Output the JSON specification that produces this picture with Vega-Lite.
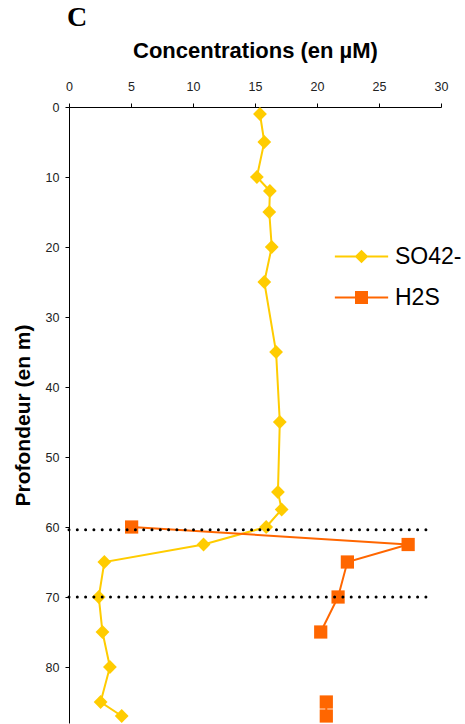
{
  "$schema": "https://vega.github.io/schema/vega-lite/v6.json",
  "width": 372,
  "height": 616,
  "autosize": {"type": "none"},
  "padding": {"left": 69, "top": 107, "right": 24, "bottom": 1},
  "background": "white",
  "config": {
    "view": {"stroke": null},
    "font": "Liberation Sans",
    "legend": {"labelFont": "Liberation Sans", "labelFontSize": 23, "labelColor": "#000", "symbolSize": 169, "labelOffset": 22, "rowPadding": 17, "padding": 0, "symbolOpacity": 1, "symbolStrokeWidth": 0}
  },
  "title": {"text": "C", "anchor": "start", "frame": "group", "font": "Liberation Serif", "fontSize": 28, "fontWeight": "bold", "color": "#000", "offset": 8, "dx": -2},
  "datasets": {
    "profiles": [
      {"species": "SO42-", "seg": "a", "depth": 1, "conc": 15.4},
      {"species": "SO42-", "seg": "a", "depth": 5, "conc": 15.75},
      {"species": "SO42-", "seg": "a", "depth": 10, "conc": 15.15},
      {"species": "SO42-", "seg": "a", "depth": 12, "conc": 16.2},
      {"species": "SO42-", "seg": "a", "depth": 15, "conc": 16.15},
      {"species": "SO42-", "seg": "a", "depth": 20, "conc": 16.35},
      {"species": "SO42-", "seg": "a", "depth": 25, "conc": 15.75},
      {"species": "SO42-", "seg": "a", "depth": 35, "conc": 16.7},
      {"species": "SO42-", "seg": "a", "depth": 45, "conc": 17.0},
      {"species": "SO42-", "seg": "a", "depth": 55, "conc": 16.85},
      {"species": "SO42-", "seg": "a", "depth": 57.5, "conc": 17.15},
      {"species": "SO42-", "seg": "a", "depth": 60, "conc": 15.9},
      {"species": "SO42-", "seg": "a", "depth": 62.5, "conc": 10.85},
      {"species": "SO42-", "seg": "a", "depth": 65, "conc": 2.85},
      {"species": "SO42-", "seg": "a", "depth": 70, "conc": 2.4},
      {"species": "SO42-", "seg": "a", "depth": 75, "conc": 2.7},
      {"species": "SO42-", "seg": "a", "depth": 80, "conc": 3.3},
      {"species": "SO42-", "seg": "a", "depth": 85, "conc": 2.55},
      {"species": "SO42-", "seg": "a", "depth": 87, "conc": 4.25},
      {"species": "H2S", "seg": "a", "depth": 60, "conc": 5.05},
      {"species": "H2S", "seg": "a", "depth": 62.5, "conc": 27.35},
      {"species": "H2S", "seg": "a", "depth": 65, "conc": 22.45},
      {"species": "H2S", "seg": "a", "depth": 70, "conc": 21.7},
      {"species": "H2S", "seg": "a", "depth": 75, "conc": 20.3},
      {"species": "H2S", "seg": "b", "depth": 85, "conc": 20.75},
      {"species": "H2S", "seg": "b", "depth": 87, "conc": 20.75}
    ],
    "limits": [
      {"depth": 60.4, "from": 0, "to": 29},
      {"depth": 70, "from": 0, "to": 29}
    ]
  },
  "layer": [
    {
      "data": {"name": "profiles"},
      "mark": {"type": "line", "strokeWidth": 2},
      "encoding": {
        "x": {
          "field": "conc", "type": "quantitative",
          "scale": {"domain": [0, 30], "nice": false},
          "axis": {
            "orient": "top", "values": [0, 5, 10, 15, 20, 25, 30],
            "title": "Concentrations (en µM)",
            "titleFont": "Liberation Sans", "titleFontSize": 22, "titleFontWeight": "bold", "titleColor": "#000", "titlePadding": 17.5,
            "labelFont": "Liberation Sans", "labelFontSize": 12.5, "labelColor": "#222", "labelPadding": 10, "labelFlush": false,
            "tickSize": 4, "tickColor": "#000", "domainColor": "#000", "grid": false
          }
        },
        "y": {
          "field": "depth", "type": "quantitative",
          "scale": {"domain": [0, 88], "nice": false, "reverse": true},
          "axis": {
            "orient": "left", "values": [0, 10, 20, 30, 40, 50, 60, 70, 80],
            "title": "Profondeur (en m)",
            "titleFont": "Liberation Sans", "titleFontSize": 21, "titleFontWeight": "bold", "titleColor": "#000", "titlePadding": 12,
            "labelFont": "Liberation Sans", "labelFontSize": 12.5, "labelColor": "#222", "labelPadding": 6, "labelFlush": false,
            "tickSize": 4, "tickColor": "#000", "domainColor": "#000", "grid": false
          }
        },
        "color": {
          "field": "species", "type": "nominal",
          "scale": {"domain": ["SO42-", "H2S"], "range": ["#FFCC00", "#FF6600"]},
          "legend": {"orient": "none", "legendX": 281, "legendY": 138, "title": null}
        },
        "detail": {"field": "seg"},
        "order": {"field": "depth", "type": "quantitative"}
      }
    },
    {
      "data": {"name": "profiles"},
      "mark": {"type": "point", "filled": true, "size": 169, "opacity": 0},
      "encoding": {
        "x": {"field": "conc", "type": "quantitative"},
        "y": {"field": "depth", "type": "quantitative"},
        "color": {"field": "species", "type": "nominal"},
        "shape": {
          "field": "species", "type": "nominal",
          "scale": {
            "domain": ["SO42-", "H2S"],
            "range": [
              "M-4.1,-0.15L4.1,-0.15L4.1,0.15L-4.1,0.15ZM-1.05,0L0,-1.05L1.05,0L0,1.05Z",
              "M-4.1,-0.15L4.1,-0.15L4.1,0.15L-4.1,0.15ZM-1,-1L1,-1L1,1L-1,1Z"
            ]
          }
        }
      }
    },
    {
      "data": {"name": "profiles"},
      "transform": [{"filter": "datum.species === 'SO42-'"}],
      "mark": {"type": "point", "shape": "diamond", "filled": true, "size": 190, "opacity": 1, "color": "#FFCC00"},
      "encoding": {
        "x": {"field": "conc", "type": "quantitative"},
        "y": {"field": "depth", "type": "quantitative"}
      }
    },
    {
      "data": {"name": "profiles"},
      "transform": [{"filter": "datum.species === 'H2S'"}],
      "mark": {"type": "point", "shape": "square", "filled": true, "size": 175, "opacity": 1, "color": "#FF6600"},
      "encoding": {
        "x": {"field": "conc", "type": "quantitative"},
        "y": {"field": "depth", "type": "quantitative"}
      }
    },
    {
      "data": {"name": "limits"},
      "mark": {"type": "rule", "color": "#000", "strokeWidth": 3, "strokeDash": [0, 8.3], "strokeCap": "round"},
      "encoding": {
        "y": {"field": "depth", "type": "quantitative"},
        "x": {"field": "from", "type": "quantitative"},
        "x2": {"field": "to"}
      }
    }
  ]
}
